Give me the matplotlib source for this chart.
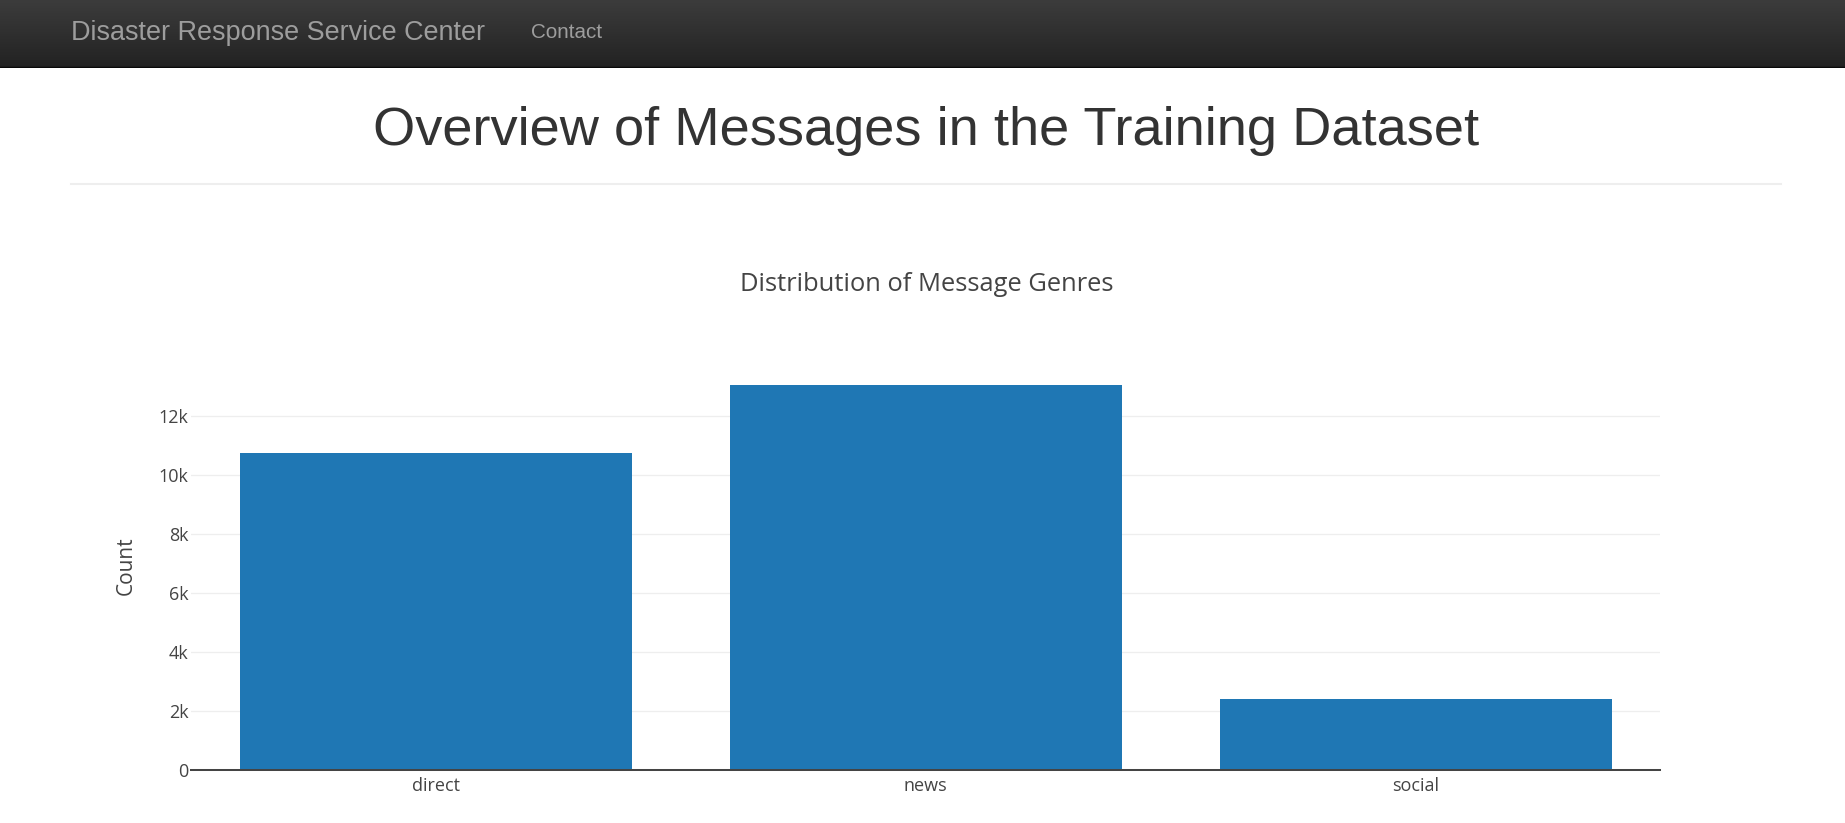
import numpy as np
import matplotlib
matplotlib.use("Agg")
import matplotlib.pyplot as plt
from matplotlib.ticker import FuncFormatter
from matplotlib.colors import LinearSegmentedColormap

# ---- data ----
genres = ["direct", "news", "social"]
counts = [10766, 13054, 2396]
y_ticks = [0, 2000, 4000, 6000, 8000, 10000, 12000]

W, H = 1845, 823
fig = plt.figure(figsize=(W / 100, H / 100), dpi=100)
fig.patch.set_facecolor("white")

def px2fig(x, y):
    return x / W, 1 - y / H

renderer = fig.canvas.get_renderer()

def fit_text(x, y, s, target_w, family, color, ha="left", va="center", **kw):
    fx, fy = px2fig(x, y)
    t = fig.text(fx, fy, s, family=family, color=color, ha=ha, va=va, fontsize=20, **kw)
    w = t.get_window_extent(renderer=renderer).width
    t.set_fontsize(20 * target_w / w)
    return t

# ---- navbar ----
nav_h = 68
nav = fig.add_axes([0, 1 - nav_h / H, 1, nav_h / H])
cmap = LinearSegmentedColormap.from_list("nav", ["#3c3c3c", "#222222"])
nav.imshow(np.linspace(0, 1, 100).reshape(-1, 1), aspect="auto", cmap=cmap,
           extent=[0, 1, 0, 1], origin="upper")
nav.axhline(0.0, color="#080808", lw=2.5)
nav.set_xlim(0, 1); nav.set_ylim(0, 1)
nav.axis("off")

fit_text(70.6, 33, "Disaster Response Service Center", 414, "Liberation Sans", "#9d9d9d")
fit_text(530.6, 33, "Contact", 70.6, "Liberation Sans", "#9d9d9d")

# ---- page heading ----
fit_text(926, 130.5, "Overview of Messages in the Training Dataset", 1103,
         "Liberation Sans", "#333333", ha="center")
fig.add_artist(plt.Line2D([70.6 / W, 1781 / W], [1 - 184 / H, 1 - 184 / H],
                          color="#eeeeee", lw=1.5, transform=fig.transFigure))

# ---- chart ----
left, right, bottom, top = 190.7, 1660.5, 770, 366
ax = fig.add_axes([left / W, 1 - bottom / H, (right - left) / W, (bottom - top) / H])
x = np.arange(len(genres))
ax.bar(x, counts, width=0.8, color="#1f77b4", zorder=3)
ax.set_xlim(-0.5, len(genres) - 0.5)
ax.set_ylim(0, max(counts) * 1.05)
ax.set_yticks(y_ticks)
ax.yaxis.set_major_formatter(FuncFormatter(lambda v, p: "0" if v == 0 else f"{int(v/1000)}k"))
ax.set_xticks(x)
ax.set_xticklabels(genres)
ax.grid(axis="y", color="#eeeeee", lw=0.9, zorder=0)
ax.set_axisbelow(True)
for s in ["top", "right", "left"]:
    ax.spines[s].set_visible(False)
ax.spines["bottom"].set_color("#444444")
ax.spines["bottom"].set_linewidth(1.45)
ax.spines["bottom"].set_zorder(4)
ax.tick_params(axis="both", length=0, labelsize=13, labelcolor="#444444")
ax.tick_params(axis="y", pad=1.5)
ax.tick_params(axis="x", pad=5)
for lab in ax.get_xticklabels() + ax.get_yticklabels():
    lab.set_family("Open Sans")

fx, fy = px2fig(126, 566)
fig.text(fx, fy, "Count", family="Open Sans", color="#444444", fontsize=15,
         rotation=90, ha="center", va="center")

fit_text(926.5, 291, "Distribution of Message Genres", 373, "Open Sans", "#444444",
         ha="center", va="baseline")

fig.savefig("out.png", dpi=100, facecolor="white")
